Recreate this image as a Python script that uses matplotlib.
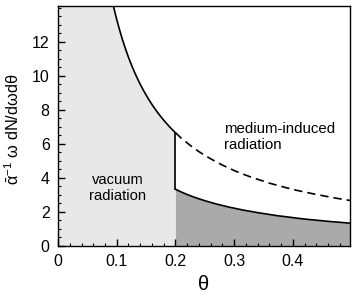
import matplotlib
matplotlib.use("Agg")
import matplotlib.pyplot as plt
from matplotlib.ticker import MultipleLocator

plt.rcParams['font.family'] = ['Liberation Sans', 'DejaVu Sans']
plt.rcParams['mathtext.fontset'] = 'custom'
plt.rcParams['mathtext.rm'] = 'Liberation Sans'
plt.rcParams['mathtext.it'] = 'Liberation Sans'
plt.rcParams['mathtext.default'] = 'regular'

# upper (vacuum) curve, theta < 0.2
theta_vac = [0.095, 0.0975, 0.10, 0.105, 0.11, 0.115, 0.12, 0.125, 0.13, 0.135, 0.14,
             0.145, 0.15, 0.155, 0.16, 0.165, 0.17, 0.175, 0.18, 0.185, 0.19, 0.195, 0.20]
y_vac = [14.0, 13.64, 13.3, 12.67, 12.09, 11.57, 11.08, 10.64, 10.23, 9.85, 9.5,
         9.17, 8.87, 8.58, 8.31, 8.06, 7.82, 7.6, 7.39, 7.19, 7.0, 6.82, 6.65]
# continuation (dashed) and lower curve, theta >= 0.2
theta_med = [0.20, 0.21, 0.22, 0.23, 0.24, 0.25, 0.26, 0.27, 0.28, 0.29, 0.30, 0.315, 0.33,
             0.345, 0.36, 0.375, 0.39, 0.405, 0.42, 0.435, 0.45, 0.465, 0.48, 0.50]
y_dash = [6.65, 6.33, 6.05, 5.78, 5.54, 5.32, 5.12, 4.93, 4.75, 4.59, 4.43, 4.22, 4.03,
          3.86, 3.69, 3.55, 3.41, 3.28, 3.17, 3.06, 2.96, 2.86, 2.77, 2.66]
y_low = [3.33, 3.17, 3.02, 2.89, 2.77, 2.66, 2.56, 2.46, 2.38, 2.29, 2.22, 2.11, 2.02,
         1.93, 1.85, 1.77, 1.71, 1.64, 1.58, 1.53, 1.48, 1.43, 1.39, 1.33]

xmax, ymax = 0.497, 14.1

fig = plt.figure(figsize=(3.57, 2.96), dpi=100)
ax = fig.add_axes([0.1625, 0.169, 0.8175, 0.811])

# light gray vacuum region
fx = [0.0] + theta_vac
fy = [ymax] + [min(v, ymax) for v in y_vac]
fy[1] = ymax
ax.fill_between(fx, 0, fy, color='#e8e8e8', lw=0)
# dark gray region under lower curve
ax.fill_between(theta_med, 0, y_low, color='#aaaaaa', lw=0)

ax.plot(theta_vac, y_vac, color='black', lw=1.2)
ax.plot([theta_med[0], theta_med[0]], [y_low[0], y_dash[0]], color='black', lw=1.2)
ax.plot(theta_med, y_low, color='black', lw=1.2)
ax.plot(theta_med, y_dash, color='black', lw=1.2, ls=(0, (5, 3)))

ax.text(0.102, 3.4, 'vacuum\nradiation', ha='center', va='center', fontsize=10.6, linespacing=1.15)
ax.text(0.282, 6.4, 'medium-induced\nradiation', ha='left', va='center', fontsize=10.8, linespacing=1.15)

ax.set_xlim(0, xmax)
ax.set_ylim(0, ymax)
ax.xaxis.set_minor_locator(MultipleLocator(0.02))
ax.yaxis.set_minor_locator(MultipleLocator(0.5))
ax.set_xticks([0, 0.1, 0.2, 0.3, 0.4])
ax.set_xticklabels(['0', '0.1', '0.2', '0.3', '0.4'])
ax.set_yticks([0, 2, 4, 6, 8, 10, 12])
ax.tick_params(which='both', direction='in', top=False, right=False, labelsize=11.5)
ax.tick_params(which='major', length=5, width=1)
ax.tick_params(axis='x', which='major', pad=6)
ax.tick_params(axis='y', which='major', pad=6)
ax.tick_params(which='minor', length=2.5, width=0.8)
for s in ax.spines.values():
    s.set_linewidth(1.0)

ax.set_xlabel('θ', fontsize=14.5, labelpad=4)
ax.set_ylabel(r'$\bar{\alpha}^{-1}\ \omega\ dN/d\omega d\theta$', fontsize=11.8)
ax.yaxis.set_label_coords(-0.125, 0.485)

fig.savefig('out.png', dpi=100)
